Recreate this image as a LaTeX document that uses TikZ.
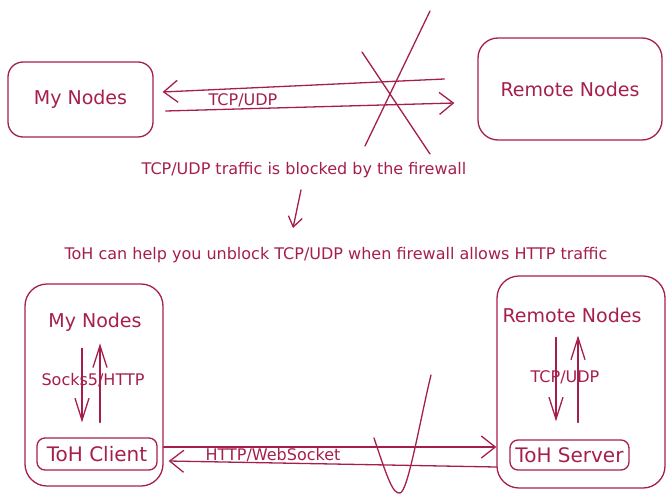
\documentclass[tikz,border=0pt]{standalone}
\usepackage{fontspec}
\setmainfont{DejaVu Sans}
\usetikzlibrary{arrows.meta}
\definecolor{ink}{HTML}{A61E4D}

\begin{document}
\begin{tikzpicture}[x=1pt,y=-1pt,
	every node/.style={text=ink, inner sep=0pt},
	box/.style={draw=ink, line width=1.3pt, rounded corners=#1},
	box/.default=16pt,
	big/.style={font=\fontsize{19}{23}\selectfont},
	tag/.style={font=\fontsize{20}{24}\selectfont},
	small/.style={font=\fontsize{16}{19}\selectfont},
	wire/.style={draw=ink, line width=1.3pt, line cap=round, -{Straight Barb[length=14pt,width=22pt]}},
	updown/.style={draw=ink, line width=1.3pt, line cap=round, -{Straight Barb[length=22pt,width=14pt]}},
	stroke/.style={draw=ink, line width=1.3pt, line cap=round}]
	\useasboundingbox (0,0) rectangle (672,503);

	% blocked case
	\node[box=15pt, big, minimum width=145pt, minimum height=75pt] (mytop) at (80.5,99.5) {My Nodes};
	\node[box=20pt, big, minimum width=184pt, minimum height=102pt] (remtop) at (570,89) {Remote Nodes};
	\draw[wire] ([xshift=-33pt,yshift=10pt]remtop.west) -- ([xshift=9pt,yshift=7.5pt]mytop.east);
	\draw[wire] ([xshift=12pt,yshift=-11.5pt]mytop.east) -- ([xshift=-23pt,yshift=-14pt]remtop.west);
	\node[small] (tcptop) at (243,100) {TCP/UDP};
	% firewall cross
	\draw[stroke] (430,11) -- (365,146);
	\draw[stroke] (362,52) -- (430,154);
	\node[small] (blocked) at (304,170) {TCP/UDP traffic is blocked by the firewall};

	\node[small] (help) at (336,255) {ToH can help you unblock TCP/UDP when firewall allows HTTP traffic};
	\draw[stroke, -{Straight Barb[length=10pt,width=14pt]}] ([xshift=-3pt,yshift=-12pt]blocked.south) -- ([xshift=-43pt,yshift=19pt]help.north);

	% tunnel case
	\node[box=22pt, minimum width=138pt, minimum height=202pt] (myhost) at (94,385) {};
	\node[big] (mylbl) at (95,322) {My Nodes};
	\node[box=8pt, tag, minimum width=120pt, minimum height=32pt] (client) at (97,454) {ToH Client};
	\draw[updown] ([xshift=-13pt,yshift=-17pt]mylbl.south) -- ([xshift=-15pt,yshift=15pt]client.north);
	\draw[updown] ([xshift=3pt,yshift=15pt]client.north) -- ([xshift=5pt,yshift=-12pt]mylbl.south);
	\node[small] (socks) at (93,380) {Socks5/HTTP};

	\node[box=22pt, minimum width=168pt, minimum height=212pt] (remhost) at (581,382) {};
	\node[big] (remlbl) at (572,315) {Remote Nodes};
	\node[box=8pt, tag, minimum width=119pt, minimum height=30pt] (server) at (569.5,455) {ToH Server};
	\draw[updown] ([xshift=-16pt,yshift=-15pt]remlbl.south) -- ([xshift=-13.5pt,yshift=18pt]server.north);
	\draw[updown] ([xshift=8.5pt,yshift=17pt]server.north) -- ([xshift=6pt,yshift=-13pt]remlbl.south);
	\node[small] (tcpbot) at (565,377) {TCP/UDP};

	\draw[wire] ([xshift=6pt,yshift=7pt]client.east) -- ([xshift=-13pt,yshift=8pt]server.west);
	\draw[wire] ([xshift=-13pt,yshift=-12pt]server.west) -- ([xshift=11pt,yshift=-7pt]client.east);
	\node[small] (httpws) at (273,455) {HTTP/WebSocket};
	% firewall dip
	\draw[stroke] (374,438) .. controls (388,480) and (393,494) .. (400,493) .. controls (408,492) and (420,420) .. (431,375);
\end{tikzpicture}
\end{document}
